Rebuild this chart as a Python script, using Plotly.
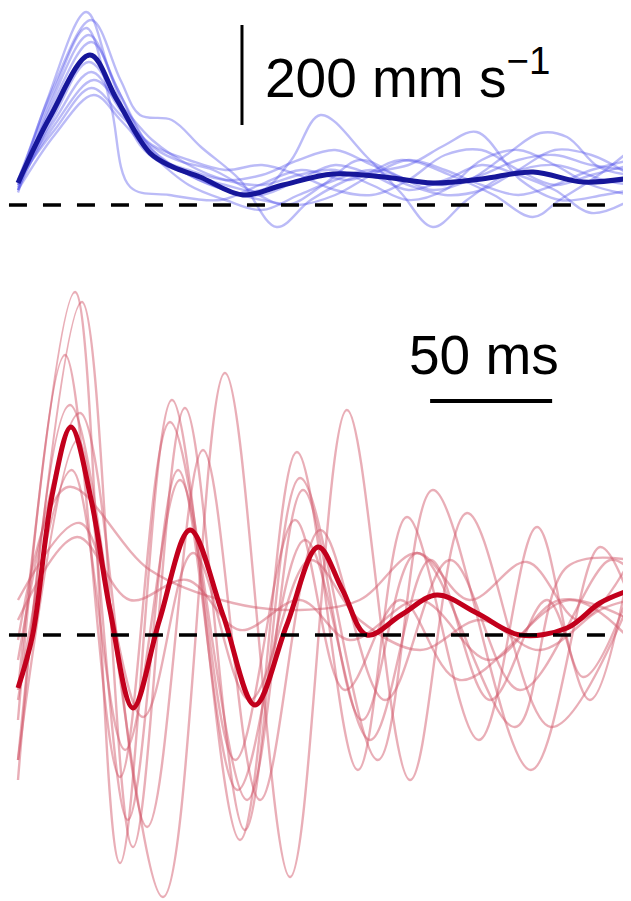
import plotly.graph_objects as go

# ---------------- data (time in ms, velocity in mm/s) ----------------
# Blue (top panel) mean
blue_mean_t = [0, 13.1, 29.5, 40.6, 54.1, 63.5, 74.6, 92.2, 108.6, 129.1, 150, 170.1, 190, 211.1, 231.6, 251]
blue_mean_v = [44, 176, 300, 210, 104, 76, 56, 20, 40, 62, 56, 44, 52, 66, 46, 54]

# Blue individual trials
blue_trials = [
    ([0, 12, 28, 38, 50, 60, 72, 85, 100, 112, 124, 143, 157, 170, 184, 200, 220, 240, 251],
     [30, 210, 386, 260, 120, 80, 60, 40, 30, 90, 180, 96, 24, -44, 10, 60, 80, 50, 40]),
    ([0, 14, 30, 42, 50, 63, 75, 91, 106, 120, 140, 160, 175, 188, 206, 222, 240, 251],
     [40, 230, 370, 250, 180, 170, 116, 50, -44, 10, 60, 80, 120, 146, 50, 10, 20, 30]),
    ([0, 14, 28, 38, 46, 62, 83, 99, 116, 136, 157, 177, 195, 211, 222, 238, 251],
     [50, 220, 354, 200, 36, 20, 10, 40, 70, 50, 90, 60, 20, -24, 10, 60, 110]),
    ([0, 14, 29, 40, 52, 65, 80, 95, 110, 125, 140, 155, 170, 185, 200, 214, 225, 238, 251],
     [25, 210, 340, 240, 130, 90, 70, 30, 0, 40, 90, 60, 30, 50, 100, 144, 136, 76, 60]),
    ([0, 14, 30, 42, 55, 70, 85, 100, 115, 130, 145, 160, 175, 190, 205, 220, 235, 251],
     [35, 200, 326, 220, 110, 60, 30, 20, 50, 80, 60, 30, 50, 80, 60, 30, -16, 10]),
    ([0, 15, 29, 42, 55, 70, 85, 100, 115, 130, 145, 160, 175, 190, 205, 220, 235, 251],
     [30, 180, 286, 200, 100, 70, 50, 60, 90, 110, 80, 50, 40, 60, 90, 100, 80, 70]),
    ([0, 15, 30, 42, 55, 70, 85, 100, 115, 130, 145, 160, 175, 190, 205, 220, 235, 251],
     [45, 170, 266, 190, 110, 60, 30, 10, 0, 20, 60, 90, 70, 40, 20, 40, 70, 90]),
    ([0, 15, 31, 42, 55, 70, 85, 100, 115, 130, 145, 160, 175, 190, 205, 220, 235, 251],
     [40, 160, 250, 200, 130, 80, 50, 40, 60, 70, 40, 10, 30, 90, 110, 80, 40, 20]),
    ([0, 15, 30, 42, 55, 70, 85, 100, 115, 130, 145, 160, 175, 190, 205, 220, 235, 251],
     [50, 150, 234, 180, 120, 90, 70, 80, 60, 30, 20, 50, 100, 110, 70, 40, 60, 80]),
    ([0, 15, 31, 42, 55, 70, 85, 100, 115, 130, 145, 160, 175, 190, 205, 220, 235, 251],
     [30, 140, 220, 170, 100, 40, 10, -10, 20, 50, 70, 40, 20, 30, 70, 110, 100, 60]),
]

# Red (bottom panel) mean
red_mean_t = [0, 6, 14, 21.7, 30, 37.7, 47.1, 58, 70.5, 84, 97.1, 110, 123, 133, 143, 157, 171.7, 188, 205.7, 225, 238.5, 251]
red_mean_v = [-106, 0, 280, 416, 270, 50, -146, 30, 210, 40, -140, 18, 176, 90, 0, 40, 80, 44, 0, 14, 64, 90]

# Red individual trials
red_trials = [
    ([0, 23.4, 41.8, 63.1, 91, 114.3, 139.3, 159.4, 188.9, 212.7, 231.6, 251],
     [-110, 686, -456, 470, -410, 366, -270, 236, -210, 216, -84, 90]),
    ([0, 26.2, 47.1, 68.4, 93, 115.6, 147.5, 170, 210.2, 238.5, 251],
     [-250, 666, -424, 454, -390, 314, -250, 290, -270, 176, 70]),
    ([0, 19.3, 41.8, 62.3, 93.9, 116.8, 141, 163.5, 203.7, 225, 251],
     [-170, 560, -284, 426, -330, 290, -170, 164, -184, 136, 150]),
    ([0, 21.3, 59.4, 84.8, 111.5, 134.8, 160.7, 184, 218.4, 251],
     [-290, 460, -524, 524, -484, 450, -290, 244, -184, 70]),
    ([0, 25.4, 52.9, 75.8, 99.2, 123.8, 150.4, 177, 205.7, 242.6, 251],
     [-50, 444, -384, 370, -330, 210, -130, 150, -110, 150, 130]),
    ([0, 20.5, 54.1, 88.1, 115.6, 140, 163.5, 185, 208.6, 230, 251],
     [-10, 296, 130, 64, 50, 70, 164, 70, 146, 30, 150]),
    ([0, 25.4, 51.2, 71.7, 95, 119.7, 140, 164.8, 189.3, 213.9, 238.5, 251],
     [70, 224, -164, 164, -130, 150, 30, -30, 30, -30, 50, 70]),
    ([0, 24.2, 45.9, 69.3, 91, 115.6, 136, 164.8, 193.4, 222, 251],
     [30, 196, 70, 110, 10, 70, -10, 70, -50, 70, 30]),
    ([0, 22, 43.9, 66.4, 89, 113.5, 134, 156.6, 181, 226, 251],
     [-130, 330, -230, 310, -250, 230, -110, 70, -90, 70, -10]),
    ([0, 24.6, 45, 65.6, 90, 117.6, 144.3, 169, 193.4, 216.8, 234.4, 251],
     [-250, 390, -370, 330, -310, 190, -210, 150, -130, 70, -130, 150]),
]

# Scale bars
scale_time_ms = 50
scale_vel = 200
scale_label_time = "50 ms"
scale_label_vel = "200 mm s<sup>−1</sup>"

# ---------------- figure ----------------
BLUE_FAINT = "rgba(85,85,235,0.40)"
BLUE_MEAN = "#16169a"
RED_FAINT = "rgba(210,85,105,0.48)"
RED_MEAN = "#c2001c"

fig = go.Figure()

for t, v in blue_trials:
    fig.add_trace(go.Scatter(x=t, y=v, mode="lines", yaxis="y2",
                             line=dict(color=BLUE_FAINT, width=2.4, shape="spline", smoothing=1.0),
                             hoverinfo="skip"))
fig.add_trace(go.Scatter(x=blue_mean_t, y=blue_mean_v, mode="lines", yaxis="y2",
                         line=dict(color=BLUE_MEAN, width=5, shape="spline", smoothing=1.0)))

for t, v in red_trials:
    fig.add_trace(go.Scatter(x=t, y=v, mode="lines", yaxis="y",
                             line=dict(color=RED_FAINT, width=2.4, shape="spline", smoothing=1.0),
                             hoverinfo="skip"))
fig.add_trace(go.Scatter(x=red_mean_t, y=red_mean_v, mode="lines", yaxis="y",
                         line=dict(color=RED_MEAN, width=5, shape="spline", smoothing=1.0)))

# page offset of ~8 px is compensated by a slightly smaller figure
W, H = 623, 893
split = 1 - 252 / H

# zero (baseline) dashed lines
for yref in ["y2", "y"]:
    fig.add_shape(type="line", xref="x", yref=yref, x0=-3.7, x1=246.7, y0=0, y1=0,
                  line=dict(color="black", width=3.5, dash="18px,16px"))

# vertical scale bar (200 mm/s) in top panel
fig.add_shape(type="line", xref="x", yref="y2", x0=91.8, x1=91.8, y0=160, y1=160 + scale_vel,
              line=dict(color="black", width=3))
fig.add_annotation(x=100.5, y=262, xref="x", yref="y2", text=scale_label_vel, showarrow=False,
                   xanchor="left", yanchor="middle",
                   font=dict(family="Liberation Sans, Arial, sans-serif", size=55, color="black"))

# horizontal scale bar (50 ms) in bottom panel
fig.add_shape(type="line", xref="x", yref="y", x0=168.9, x1=168.9 + scale_time_ms, y0=468, y1=468,
              line=dict(color="black", width=4))
fig.add_annotation(x=166 + scale_time_ms / 2, y=560, xref="x", yref="y", text=scale_label_time,
                   showarrow=False, xanchor="center", yanchor="middle",
                   font=dict(family="Liberation Sans, Arial, sans-serif", size=55, color="black"))

fig.update_layout(
    width=W, height=H,
    margin=dict(l=0, r=0, t=0, b=0),
    paper_bgcolor="white", plot_bgcolor="white",
    showlegend=False,
    xaxis=dict(range=[-10 / 2.44, 613 / 2.44], visible=False, fixedrange=True),
    yaxis=dict(domain=[0, split], range=[-532, 750], visible=False, fixedrange=True),
    yaxis2=dict(domain=[split, 1], range=[-110, 394], visible=False, anchor="x", fixedrange=True),
)

fig.write_html("out.html")
